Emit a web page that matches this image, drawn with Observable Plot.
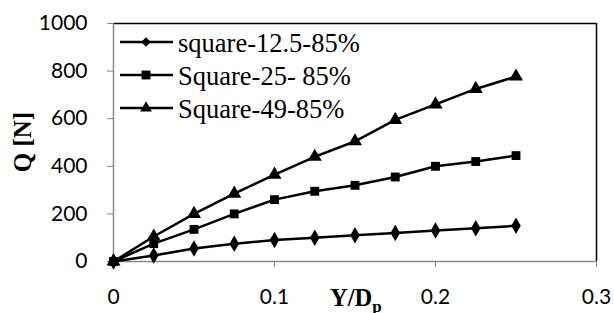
<!DOCTYPE html>
<html><head><meta charset="utf-8">
<script src="https://cdn.jsdelivr.net/npm/d3@7"></script>
<script src="https://cdn.jsdelivr.net/npm/@observablehq/plot@0.6"></script>
<style>body{margin:0;background:#fff}</style>
</head><body><div id="chart"></div>
<script>
const xValues = [0, 0.025, 0.05, 0.075, 0.1, 0.125, 0.15, 0.175, 0.2, 0.225, 0.25];
const seriesNames = ["square-12.5-85%", "Square-25- 85%", "Square-49-85%"];
const seriesSymbols = ["diamond", "square", "triangle"];
const q125 = [0, 25, 55, 75, 90, 100, 110, 120, 130, 140, 150];
const q25 = [0, 75, 135, 200, 260, 295, 320, 355, 400, 420, 445];
const q49 = [0, 105, 200, 285, 365, 440, 505, 595, 660, 725, 777];
const xTicks = [0, 0.1, 0.2, 0.3];
const yTicks = [0, 200, 400, 600, 800, 1000];

const seriesValues = [q125, q25, q49];
const data = [];
seriesValues.forEach((vals, s) => vals.forEach((v, i) => data.push({x: xValues[i], q: v, s: seriesNames[s]})));

const W = 614, H = 313, ML = 113, MR = 18, MT = 23, MB = 52;
const symScale = {domain: seriesNames, range: seriesSymbols};
const sizes = {diamond: 5, square: 5, triangle: 5.2};

const plot = Plot.plot({
  width: W, height: H,
  marginLeft: ML, marginRight: MR, marginTop: MT, marginBottom: MB,
  x: {domain: [0, 0.3], ticks: xTicks, label: null},
  y: {domain: [0, 1000], ticks: yTicks, label: null},
  symbol: symScale,
  style: {fontFamily: "Lato, 'Open Sans', sans-serif", fontSize: "21px", color: "#000", background: "#fff"},
  marks: [
    Plot.ruleY([1000], {stroke: "#000", strokeWidth: 1.5}),
    Plot.ruleX([0.3], {stroke: "#000", strokeWidth: 1.5}),
    Plot.axisX({ticks: xTicks, tickSize: 6, tickPadding: 22, stroke: "#888", tickFormat: d => String(d), label: null, fontSize: 21}),
    Plot.axisY({ticks: yTicks, tickSize: 6, tickPadding: 20, stroke: "#888", tickFormat: d => String(d), label: null, fontSize: 21}),
    Plot.ruleX([0], {stroke: "#888", strokeWidth: 1.5}),
    Plot.ruleY([0], {stroke: "#888", strokeWidth: 1.5}),
    Plot.line(data, {x: "x", y: "q", z: "s", stroke: "#000", strokeWidth: 2.5}),
    ...seriesNames.map((n, k) => Plot.dot(data.filter(d => d.s === n), {x: "x", y: "q", symbol: "s", fill: "#000", stroke: "none", r: sizes[seriesSymbols[k]]}))
  ]
});

const svg = d3.select(plot);
const serif = "'Liberation Serif', 'Times New Roman', serif";
// Legend
const legY = [42, 75, 108];
const lg = svg.append("g");
seriesNames.forEach((n, i) => {
  const y = legY[i];
  lg.append("line").attr("x1", 120).attr("x2", 173).attr("y1", y).attr("y2", y).attr("stroke", "#000").attr("stroke-width", 2.5);
  const sym = d3.symbol().type([d3.symbolDiamond2, d3.symbolSquare2, d3.symbolTriangle2][i]).size([60, 100, 100][i]);
  lg.append("path").attr("d", sym()).attr("transform", `translate(146,${y})`).attr("fill", "#000");
  lg.append("text").attr("x", 178).attr("y", y).attr("dy", "0.36em")
    .style("font-family", serif).style("font-size", "26.5px").style("text-anchor", "start").style("fill", "#000").text(n);
});
// Axis titles
svg.append("text").attr("transform", "translate(31,142) rotate(-90)")
  .style("text-anchor", "middle").style("font-family", serif).style("font-weight", "bold").style("font-size", "25px").text("Q [N]");
const xt = svg.append("text").attr("x", 330).attr("y", 306)
  .style("text-anchor", "start").style("font-family", serif).style("font-weight", "bold").style("font-size", "24.5px");
xt.append("tspan").text("Y/D");
xt.append("tspan").style("font-size", "17px").attr("dy", 6).text("p");

document.getElementById("chart").appendChild(plot);
</script></body></html>
